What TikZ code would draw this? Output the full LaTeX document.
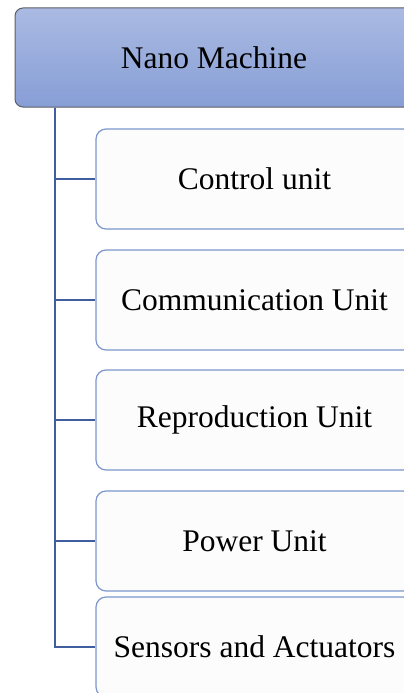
\documentclass[tikz,border=0pt]{standalone}
\usepackage{fontspec}
\setmainfont{Liberation Serif}
\usepackage{xcolor}
\usepackage{tikz}
\usetikzlibrary{positioning}

\definecolor{headtop}{HTML}{AABAE2}
\definecolor{headbot}{HTML}{879ED6}
\definecolor{headline}{HTML}{5A5E66}
\definecolor{unitline}{HTML}{7C97CC}
\definecolor{trunkblue}{HTML}{3E5E9E}

\begin{document}
\begin{tikzpicture}[
  x=1pt, y=-1pt,
  head/.style={rectangle, rounded corners=8pt, draw=headline, line width=1pt,
               top color=headtop, bottom color=headbot,
               minimum width=398pt, minimum height=99pt,
               font=\fontsize{31.5}{36}\selectfont},
  unit/.style={rectangle, rounded corners=10pt, draw=unitline, line width=1.2pt,
               fill=white!98!gray,
               minimum width=317pt, minimum height=100pt,
               font=\fontsize{31.5}{36}\selectfont},
  conn/.style={draw=trunkblue, line width=2.8pt},
]
\useasboundingbox (0,0) rectangle (404,693);
\clip (0,0) rectangle (404,693);

%% ---- root ----
\node[head] (nano) at (214,57.5) {Nano Machine};
\coordinate (trunk) at (55,0);

%% ---- units ----
\node[unit] (ctrl)  at (254.5,179) {Control unit};
\node[unit] (comm)  at (254.5,300) {Communication Unit};
\node[unit] (repro) at (254.5,420) {Reproduction Unit};
\node[unit] (power) at (254.5,541) {Power Unit};
\node[unit] (sens)  at (254.5,647) {Sensors and Actuators};

%% tree lines
\foreach \u in {ctrl, comm, repro, power, sens}
  \draw[conn] (nano.south -| trunk) |- (\u.west);

\end{tikzpicture}
\end{document}
